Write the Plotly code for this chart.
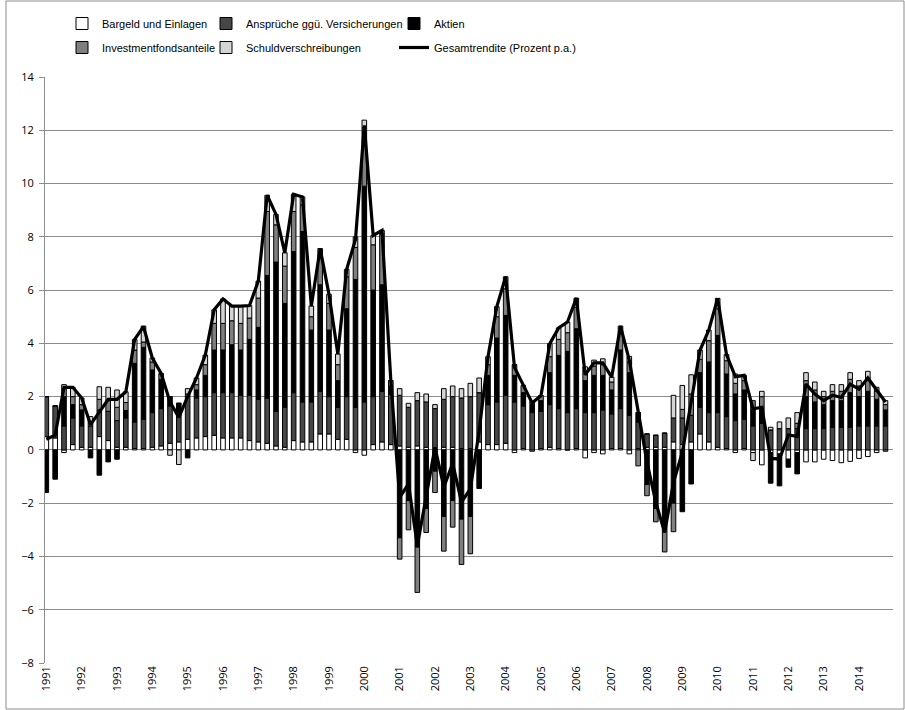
import plotly.graph_objects as go

years = [str(y) for y in range(1991, 2015)]
quarters = list(range(96))

bargeld = [0.5, 0.45, -0.1, 0.2, 0.1, 0.1, 0.5, 0.35, 0.1, 0.1, 0.05, 0.05,
           0.1, 0.15, 0.25, 0.3, 0.4, 0.45, 0.5, 0.55, 0.45, 0.45, 0.45, 0.35,
           0.3, 0.25, 0.15, 0.1, 0.35, 0.3, 0.3, 0.6, 0.6, 0.4, 0.4, -0.1,
           -0.2, 0.2, 0.3, 0.2, 0.15, 0.1, 0.15, 0.1, 0.05, 0.1, 0.1, 0.05,
           0.05, 0.3, 0.2, 0.2, 0.25, -0.1, 0.05, -0.05, 0.05, 0.1, 0.05, 0.0,
           0.05, -0.3, -0.1, -0.15, 0.05, 0.05, -0.15, 0.05, 0.1, 0.1, 0.1, 0.3,
           0.2, 0.3, 0.6, 0.3, 0.1, 0.05, -0.1, 0.05, -0.1, -0.56, -0.1, -0.15,
           -0.35, -0.1, -0.45, -0.45, -0.35, -0.4, -0.48, -0.43, -0.32, -0.25, -0.1, -0.05]
ansprueche = [1.5, 1.2, 0.9, 1.0, 0.8, 0.8, 1.0, 1.1, 1.0, 1.1, 1.0, 1.1,
              1.3, 1.4, 1.4, 1.1, 1.6, 1.5, 1.5, 1.6, 1.7, 1.7, 1.6, 1.7,
              1.6, 1.7, 1.3, 1.5, 1.8, 1.5, 1.5, 1.6, 1.4, 1.2, 1.6, 1.6,
              1.8, 1.8, 1.9, 1.9, 1.9, 1.5, 1.7, 1.7, 1.5, 1.8, 1.9, 1.9,
              1.95, 1.85, 1.5, 1.6, 1.8, 1.8, 1.6, 1.4, 1.4, 1.6, 1.5, 1.4,
              1.5, 1.4, 1.4, 1.5, 1.3, 1.5, 1.3, 1.0, 0.5, 0.45, 0.53, 0.9,
              1.0, 1.0, 1.0, 1.1, 1.3, 1.2, 1.1, 1.1, 0.9, 1.0, 0.75, 0.8,
              0.8, 0.8, 0.8, 0.8, 0.8, 0.85, 0.85, 0.85, 0.9, 0.9, 0.9, 0.9]
aktien = [-1.6, -1.1, 1.1, 0.5, 0.6, -0.3, -0.95, -0.45, -0.35, 0.28, 2.2, 2.7,
          1.6, 1.1, 0.35, 0.35, -0.3, 0.3, 0.8, 1.6, 1.6, 1.8, 1.7, 2.1,
          2.7, 4.6, 5.6, 3.9, 5.3, 6.4, 2.7, 4.0, 2.5, 1.0, 3.3, 4.8,
          8.1, 4.0, 4.0, 0.3, -3.3, -1.9, -3.65, -2.2, -0.8, -2.5, -1.9, -2.6,
          -2.5, -1.45, 1.1, 2.4, 3.0, 1.0, 0.5, 0.3, 0.4, 1.2, 2.0, 2.3,
          3.0, 1.2, 1.4, 1.3, 0.9, 2.2, 1.6, 0.35, -1.3, -2.2, -3.0, -2.0,
          -2.32, -1.28, 1.3, 1.9, 2.9, 1.6, 1.0, 1.1, 0.6, 0.6, -1.15, -1.2,
          -0.3, -0.8, 1.2, 1.0, 0.9, 1.0, 1.0, 1.3, 1.1, 1.3, 1.0, 0.6]
investment = [0.0, 0.0, 0.3, 0.3, 0.2, 0.15, 0.4, 0.4, 0.5, 0.3, 0.5, 0.2,
              0.3, 0.2, 0.0, 0.0, 0.1, 0.2, 0.4, 1.0, 1.0, 0.9, 1.0, 0.8,
              1.1, 2.4, 1.4, 1.4, 1.5, 1.0, 0.5, 1.0, 1.0, 0.6, 1.2, 1.2,
              2.2, 1.7, 1.9, 0.2, -0.8, -1.1, -1.7, -0.9, -0.8, -1.3, -1.0, -1.7,
              -1.4, 0.0, 0.4, 0.8, 1.0, 0.4, 0.27, 0.11, 0.19, 0.6, 0.6, 0.7,
              0.8, 0.35, 0.35, 0.4, 0.3, 0.6, 0.4, -0.6, -0.42, -0.5, -0.83, -1.07,
              0.32, 0.8, 0.5, 0.8, 1.0, 0.5, 0.4, 0.35, 0.35, 0.4, 0.0, 0.0,
              0.0, 0.2, 0.6, 0.45, 0.3, 0.35, 0.35, 0.5, 0.4, 0.5, 0.3, 0.2]
schuld = [0.0, 0.0, 0.15, 0.35, 0.25, 0.2, 0.47, 0.5, 0.65, 0.4, 0.4, 0.6,
          0.15, 0.02, -0.2, -0.55, 0.2, 0.25, 0.36, 0.51, 0.92, 0.55, 0.65, 0.47,
          0.64, 0.61, 0.39, 0.5, 0.65, 0.3, 0.4, 0.36, 0.34, 0.4, 0.28, 0.4,
          0.28, 0.35, 0.14, 0.0, 0.25, 0.15, 0.3, 0.3, 0.15, 0.4, 0.4, 0.35,
          0.5, 0.55, 0.3, 0.38, 0.45, 0.0, 0.0, 0.0, 0.0, 0.49, 0.43, 0.4,
          0.35, 0.17, 0.22, 0.22, 0.18, 0.3, 0.21, 0.0, 0.0, 0.0, 0.0, 0.85,
          0.9, 0.72, 0.35, 0.4, 0.39, 0.23, 0.35, 0.2, -0.3, 0.2, 0.1, 0.25,
          0.4, 0.4, 0.3, 0.3, 0.2, 0.25, 0.25, 0.25, 0.2, 0.25, 0.15, 0.15]
gesamt = [0.4, 0.55, 2.35, 2.35, 1.95, 0.95, 1.42, 1.9, 1.9, 2.18, 4.15, 4.63,
          3.45, 2.87, 1.8, 1.22, 2.0, 2.7, 3.56, 5.26, 5.67, 5.4, 5.4, 5.42,
          6.34, 9.56, 8.84, 7.4, 9.6, 9.5, 5.4, 7.56, 5.84, 3.6, 6.78, 7.9,
          12.18, 8.05, 8.24, 2.6, -1.78, -1.28, -3.6, -1.7, 0.1, -1.4, -0.5, -1.96,
          -1.46, 0.7, 3.5, 5.38, 6.5, 3.1, 2.42, 1.76, 2.04, 3.99, 4.58, 4.8,
          5.7, 2.82, 3.27, 3.27, 2.73, 4.65, 3.36, 1.42, -0.46, -1.97, -3.1, -1.22,
          -0.09, 1.8, 3.74, 4.5, 5.69, 3.58, 2.75, 2.8, 1.54, 1.6, -0.32, -0.34,
          0.56, 0.51, 2.47, 2.1, 1.85, 2.05, 1.97, 2.47, 2.28, 2.7, 2.25, 1.8]

# name, values, fill colour, legend column
series = [
    ("Bargeld und Einlagen", bargeld, "#ffffff", "legend"),
    ("Ansprüche ggü. Versicherungen", ansprueche, "#474747", "legend2"),
    ("Aktien", aktien, "#000000", "legend3"),
    ("Investmentfondsanteile", investment, "#7f7f7f", "legend"),
    ("Schuldverschreibungen", schuld, "#d4d4d4", "legend2"),
]

fig = go.Figure()
for name, vals, col, lg in series:
    fig.add_trace(go.Bar(
        x=quarters, y=vals, name=name, legend=lg, legendgroup=name,
        marker=dict(color=col, line=dict(color="#000000", width=1)),
    ))
fig.add_trace(go.Scatter(
    x=quarters, y=gesamt, name="Gesamtrendite (Prozent p.a.)", legend="legend3",
    legendgroup="gesamt", mode="lines", line=dict(color="#000000", width=3.2),
))

# pixel geometry helpers for paper coordinates
L, R, T, B, W, H = 45, 12, 77, 47, 905, 710
pw, ph = W - L - R, H - T - B

def px_x(x):
    return (x - L) / pw

def px_y(y):
    return (H - B - y) / ph

legend_font = dict(family="Liberation Sans, Arial, sans-serif", size=11, color="#000000")
common_legend = dict(orientation="v", xanchor="left", yanchor="top",
                     traceorder="grouped", font=legend_font, bgcolor="rgba(0,0,0,0)",
                     itemwidth=30, tracegroupgap=5)
fig.update_layout(
    width=W, height=H,
    margin=dict(l=L, r=R, t=T, b=B, autoexpand=False),
    paper_bgcolor="#ffffff", plot_bgcolor="#ffffff",
    barmode="relative", bargap=0.48,
    font=dict(family="Open Sans, sans-serif", size=11, color="#000000"),
    showlegend=True,
    legend=dict(x=px_x(62), y=px_y(9), **common_legend),
    legend2=dict(x=px_x(206), y=px_y(9), **common_legend),
    legend3=dict(x=px_x(394), y=px_y(9), **common_legend),
    xaxis=dict(range=[-0.15, 95.85], tickmode="array",
               tickvals=[i * 4 for i in range(len(years))], ticktext=years,
               tickangle=-90, showgrid=False, zeroline=False, showline=False,
               ticks="", tickfont=dict(size=11)),
    yaxis=dict(range=[-8, 14], dtick=2, tick0=0, showgrid=True, gridcolor="#8c8c8c",
               gridwidth=1, zeroline=True, zerolinecolor="#8c8c8c", zerolinewidth=1,
               showline=True, linecolor="#8c8c8c", linewidth=1,
               ticks="outside", ticklen=5, tickcolor="#8c8c8c",
               ticklabelstandoff=3, tickfont=dict(size=11)),
    shapes=[dict(type="rect", xref="paper", yref="paper",
                 x0=px_x(6), x1=px_x(904), y0=px_y(709), y1=px_y(1),
                 line=dict(color="#8c8c8c", width=1))],
)

fig.write_html("out.html", config={"displayModeBar": False},
               post_script="document.body.style.margin='0';")
